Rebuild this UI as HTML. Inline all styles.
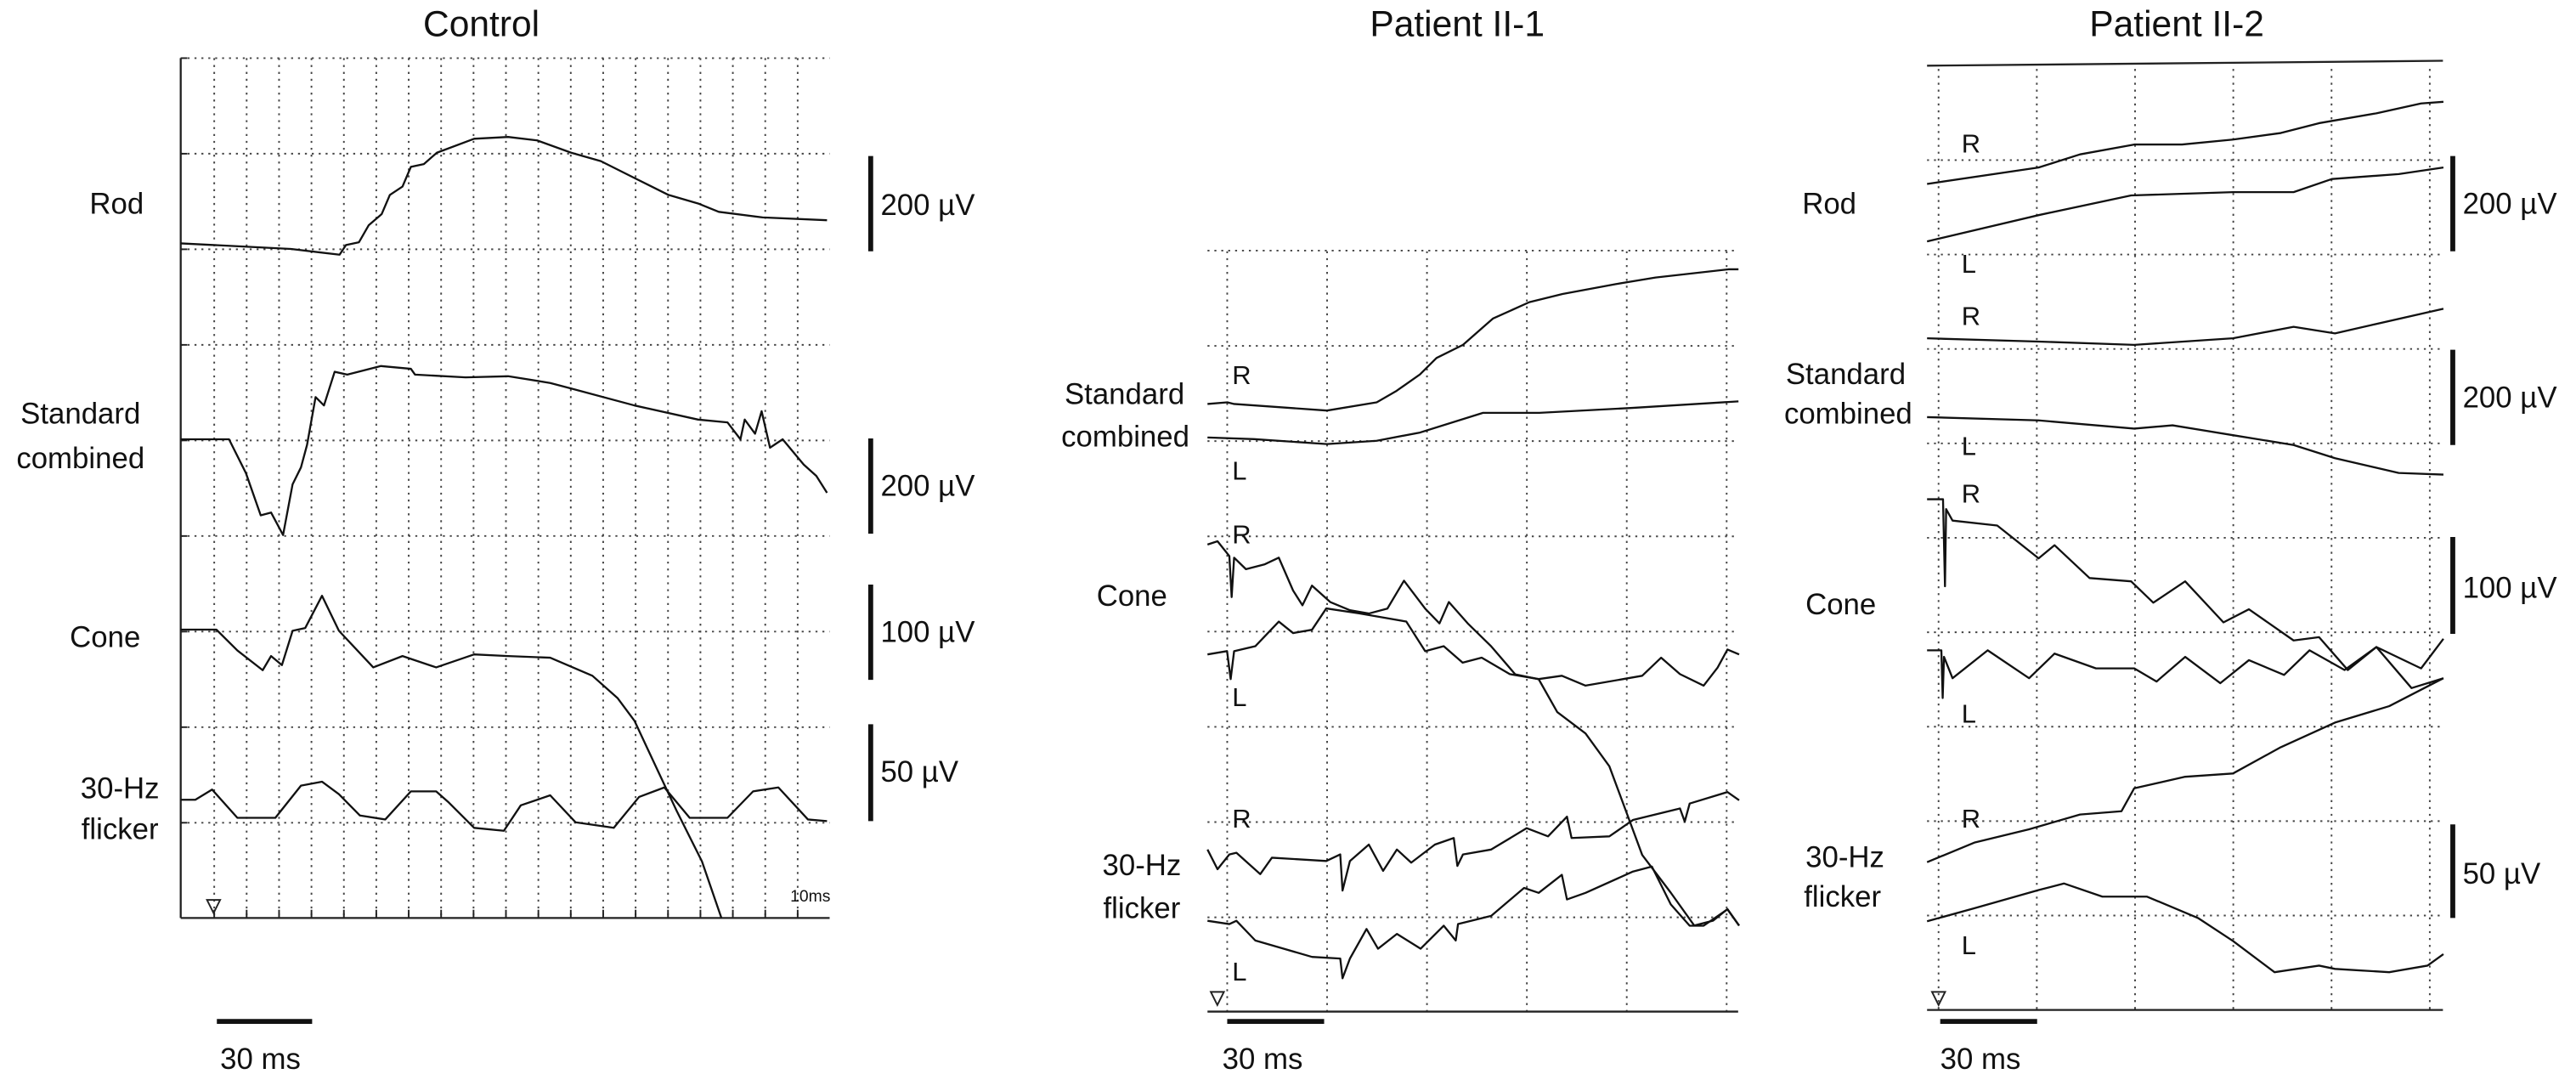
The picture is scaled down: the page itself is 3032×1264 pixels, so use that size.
<!DOCTYPE html>
<html><head><meta charset="utf-8"><style>
html,body{margin:0;padding:0;background:#fff}
svg{display:block}
text{font-family:"Liberation Sans",sans-serif;fill:#111}
</style></head><body>
<svg id="fig" width="3032" height="1264" viewBox="0 0 1568 654" preserveAspectRatio="none" xmlns="http://www.w3.org/2000/svg">
<g id="grid"></g>
<g id="traces"></g>
<g font-size="18">
<text x="293" y="22" font-size="22" text-anchor="middle">Control</text>
<text x="887" y="22" font-size="22" text-anchor="middle">Patient II-1</text>
<text x="1325" y="22" font-size="22" text-anchor="middle">Patient II-2</text>
<text x="71" y="130" text-anchor="middle">Rod</text>
<text x="49" y="258" text-anchor="middle">Standard</text>
<text x="49" y="285" text-anchor="middle">combined</text>
<text x="64" y="394" text-anchor="middle">Cone</text>
<text x="73" y="486" text-anchor="middle">30-Hz</text>
<text x="73" y="511" text-anchor="middle">flicker</text>
<text x="721" y="246" text-anchor="end">Standard</text>
<text x="724" y="272" text-anchor="end">combined</text>
<text x="689" y="369" text-anchor="middle">Cone</text>
<text x="695" y="533" text-anchor="middle">30-Hz</text>
<text x="695" y="559" text-anchor="middle">flicker</text>
<text x="1130" y="130" text-anchor="end">Rod</text>
<text x="1160" y="234" text-anchor="end">Standard</text>
<text x="1164" y="258" text-anchor="end">combined</text>
<text x="1142" y="374" text-anchor="end">Cone</text>
<text x="1147" y="528" text-anchor="end">30-Hz</text>
<text x="1145" y="552" text-anchor="end">flicker</text>
<g font-size="16">
<text x="750" y="234">R</text><text x="750" y="292">L</text>
<text x="750" y="331">R</text><text x="750" y="430">L</text>
<text x="750" y="504">R</text><text x="750" y="597">L</text>
<text x="1194" y="93">R</text><text x="1194" y="166">L</text>
<text x="1194" y="198">R</text><text x="1194" y="277">L</text>
<text x="1194" y="306">R</text><text x="1194" y="440">L</text>
<text x="1194" y="504">R</text><text x="1194" y="581">L</text>
</g>
<text x="481" y="549" font-size="10">10ms</text>
<g stroke="#111" stroke-width="3">
<line x1="530" y1="95" x2="530" y2="153"/><line x1="530" y1="267" x2="530" y2="325"/>
<line x1="530" y1="356" x2="530" y2="414"/><line x1="530" y1="441" x2="530" y2="500"/>
<line x1="1493" y1="95" x2="1493" y2="153"/><line x1="1493" y1="213" x2="1493" y2="271"/>
<line x1="1493" y1="327" x2="1493" y2="386"/><line x1="1493" y1="502" x2="1493" y2="559"/>
<line x1="132" y1="622" x2="190" y2="622"/><line x1="747" y1="622" x2="806" y2="622"/><line x1="1181" y1="622" x2="1240" y2="622"/>
</g>
<text x="536" y="131">200 µV</text><text x="536" y="302">200 µV</text>
<text x="536" y="391">100 µV</text><text x="536" y="476">50 µV</text>
<text x="1499" y="130">200 µV</text><text x="1499" y="248">200 µV</text>
<text x="1499" y="364">100 µV</text><text x="1499" y="538">50 µV</text>
<text x="134" y="651">30 ms</text><text x="744" y="651">30 ms</text><text x="1181" y="651">30 ms</text>
</g>
</svg>
<script>
// Control traces (t in ms, amplitude relative to baseline)
const ctlRodT=[0,34,49,51,55,58,62,64.5,68.4,71,75,79,90.5,101,110,120.5,129.6,140,150.5,159.6,166,179.5,199.4];
const ctlRodA=[0,-3.4,-6.9,-1,0.7,11,17.8,29.5,34.6,46.6,48.3,55.2,63.7,64.8,62.7,55.2,50.1,39.8,29.5,24.3,19.2,15.8,14.1];
const ctlStdT=[0,14.9,20.1,24.7,27.9,31.6,34.5,37.1,39,41.6,44.2,47.5,51.4,61.8,71,72.3,87.9,101,114,120.5,140,159.6,168.7,172.7,174,177.2,179.2,181.8,185.7,192.2,196.1,199.4];
const ctlStdA=[0,0,-20.6,-46.3,-44.6,-58.3,-27.4,-17.1,-3.4,25.7,20.6,41.1,39.4,44.6,42.9,39.4,37.7,38.4,34.3,30.9,20.6,12,10.3,0,12,3.4,17.1,-5.1,0,-15.4,-22.3,-32.6];
const ctlConeT=[0,11,17.5,25.3,27.9,31.2,34.5,38.4,43.6,48.8,59.4,68.4,78.8,90.5,101,114,127,134.8,140,146.5,153,160.8,166.8];
const ctlConeA=[0,0,-12.7,-24.7,-16.1,-21.6,-0.7,1,20.6,-0.7,-23,-16.1,-23,-15.1,-16.1,-17.1,-28.1,-41.8,-55.5,-82.9,-110.4,-141.2,-175.5];
const ctlFlkT=[0,4.5,9.7,17.5,29.2,37.1,43.6,48.8,55.3,63.1,71,78.8,82.7,90.5,99.7,104.9,114,121.8,133.6,141.4,149.2,157,168.7,176.6,184.4,193.5,199.4];
const ctlFlkA=[12,12,18.2,1,1,20.6,23,15.4,2.4,0,17.1,17.1,10.3,-5.1,-6.9,8.6,14.7,-1.7,-5.1,13.7,19.5,1,1,17.1,19.5,0,-1];
// Patient II-1
const p1StdRT=[0,6,8,36,51,57,64,69,77,86,97,107,123,135,157,160];
const p1StdRA=[0,1,0,-4,1,8,18,28,36,52,62,67,73,77,82,82];
const p1StdLT=[0,14,36,51,64,83,100,128,160];
const p1StdLA=[0,-1,-4,-2,3,15,15,18,22];
const p1ConeRT=[0,3,6.6,7.3,8,11.6,17.3,21.5,25.8,28.6,31.5,37,42.9,48.6,54.2,59.2,65.6,69.9,72.7,78.4,85.5,92.7,99.8,105.4,113.9,121.1,126.8,131,139.6,146.7,152.4,156.7,160.2];
const p1ConeRA=[0,2,-7,-32,-8,-15,-12,-8,-28,-37,-25,-35,-40,-42,-39,-22,-39,-48,-35,-48,-62,-79,-82,-102,-115,-135,-166,-189,-212,-232,-229,-222,-232];
const p1ConeLT=[0,5.9,7,8,14.4,21.5,25.8,31.5,35.8,45.7,54.2,59.9,65.6,71.2,76.9,82.6,91.1,99.8,106.8,113.9,125.3,131,136.7,142.4,149.5,153.7,156.7,160.2];
const p1ConeLA=[0,2,-15,2,5,20,13,15,28,25,22,20,2,5,-5,-2,-12,-15,-13,-19,-15,-13,-2,-12,-19,-8,3,0];
const p1FlkRT=[0,3,6.6,8.7,15.9,19.4,35.8,40,40.7,42.9,48.6,52.9,57.1,61.4,68.5,74.2,75.3,77,85.5,96.2,102.6,108.3,109.7,121.1,128.2,142.4,143.8,145.3,156.7,160.2];
const p1FlkRA=[0,-12,-3,-2,-15,-5,-7,-3,-25,-7,3,-13,0,-8,3,7,-10,-3,0,13,8,20,7,8,18,25,17,28,35,30];
const p1FlkLT=[0,6.6,8.7,14.4,22.9,31.5,40,40.7,42.9,47.9,51.4,57.1,64.2,71.2,74.8,75.5,85.5,95.4,99.8,106.8,108.3,113.9,128.2,133.9,139.6,145.3,149.5,156.7,160.2];
const p1FlkLA=[0,-2,0,-12,-17,-22,-23,-35,-23,-5,-17,-8,-17,-3,-12,-2,3,20,17,28,13,17,30,33,10,-3,-3,7,-3];
// Patient II-2
const p2RodRT=[0,35,48,65,80,96,111,123,141,155,162];
const p2RodRA=[0,10,18,24,24,27,31,37,43,49,50];
const p2RodLT=[0,35,64,96,115,127,148,162];
const p2RodLA=[0,16,28,30,30,38,41,45];
const p2StdRT=[0,35,65,96,115,128,162];
const p2StdRA=[0,-2,-4,0,7,3,18];
const p2StdLT=[0,35,65,77,96,115,128,148,162];
const p2StdLA=[0,-2,-7,-5,-11,-17,-25,-34,-35];
const p2ConeRT=[0,5,5.6,6,8,22,35,40,51,64,71,81,93,101,115,123,132,141,155,162];
const p2ConeRA=[0,0,-53,-6,-13,-16,-36,-28,-48,-50,-63,-50,-75,-67,-86,-84,-104,-90,-103,-85];
const p2ConeLT=[0,4.5,4.9,5.3,8,19,32,40,53,65,72,81,92,101,112,120,131,141,152,162];
const p2ConeLA=[0,0,-29,-4,-17,0,-17,-2,-11,-11,-19,-4,-20,-6,-15,0,-12,2,-23,-17];
const p2FlkRT=[0,15,32,48,61,65,81,96,111,128,145,162];
const p2FlkRA=[0,12,20,29,31,45,52,54,70,85,95,112];
const p2FlkLT=[0,15,35,43,55,69,85,96,109,123,128,145,157,162];
const p2FlkLA=[0,8,19,23,15,15,2,-12,-31,-27,-29,-31,-27,-20];

const NS="http://www.w3.org/2000/svg";
function mk(tag,attrs,parent){const e=document.createElementNS(NS,tag);for(const k in attrs)e.setAttribute(k,attrs[k]);parent.appendChild(e);return e;}
const grid=document.getElementById('grid');
const tr=document.getElementById('traces');
const dot={stroke:'#444','stroke-width':1,'stroke-dasharray':'1.2 3'};
function dline(x1,y1,x2,y2){const l=mk('line',Object.assign({x1,y1,x2,y2},dot),grid);

}
function sline(x1,y1,x2,y2,w){const l=mk('line',{x1,y1,x2,y2,stroke:'#222','stroke-width':w||1.2},grid);

}
// Control grid
for(let i=0;i<19;i++){const x=130.4+i*19.73;dline(x,35.4,x,559);sline(x,554,x,559,1);}
for(let j=0;j<9;j++){const y=35.4+j*58.2;dline(110,y,505,y);sline(110,y,114,y,1);}
sline(110,35.4,110,559);sline(110,559,505,559);
// Patient II-1 grid
for(let i=0;i<6;i++){const x=747+i*60.8;dline(x,153,x,616);}
for(let j=0;j<8;j++){const y=152.6+j*58;dline(735,y,1058,y);}
sline(735,616,1058,616);
// Patient II-2 grid
for(let i=0;i<6;i++){const x=1180+i*59.8;dline(x,42,x,615);}
for(let j=1;j<10;j++){const y=40+j*57.5;dline(1173,y,1487,y);}
sline(1173,40,1487,37);sline(1173,615,1487,615);
// triangles
[[130,548],[741,604],[1180,604]].forEach(p=>{const t=mk('path',{d:`M${p[0]-4} ${p[1]} L${p[0]+4} ${p[1]} L${p[0]} ${p[1]+8} Z`,fill:'none',stroke:'#222','stroke-width':1},grid);

});

function xS(x0,k,t){return x0+t*k;}
function yS(base,a){return base-a;}
function trace(name,x0,k,base,T,A){
  const pts=T.map((t,i)=>xS(x0,k,t).toFixed(1)+','+yS(base,A[i]).toFixed(1)).join(' ');
  const p=mk('polyline',{points:pts,fill:'none',stroke:'#111','stroke-width':1.2,'stroke-linejoin':'round'},tr);
  
  
}
const kC=1.973,k1=2.02,k2=1.94;
trace('control-rod-trace',110,kC,148.2,ctlRodT,ctlRodA);
trace('control-standard-trace',110,kC,267.5,ctlStdT,ctlStdA);
trace('control-cone-trace',110,kC,383.4,ctlConeT,ctlConeA);
trace('control-flicker-trace',110,kC,499,ctlFlkT,ctlFlkA);
trace('p1-standard-r-trace',735,k1,246,p1StdRT,p1StdRA);
trace('p1-standard-l-trace',735,k1,266.4,p1StdLT,p1StdLA);
trace('p1-cone-r-trace',735,k1,331.6,p1ConeRT,p1ConeRA);
trace('p1-cone-l-trace',735,k1,398.5,p1ConeLT,p1ConeLA);
trace('p1-flicker-r-trace',735,k1,517.3,p1FlkRT,p1FlkRA);
trace('p1-flicker-l-trace',735,k1,560.7,p1FlkLT,p1FlkLA);
trace('p2-rod-r-trace',1173,k2,112,p2RodRT,p2RodRA);
trace('p2-rod-l-trace',1173,k2,147,p2RodLT,p2RodLA);
trace('p2-standard-r-trace',1173,k2,206,p2StdRT,p2StdRA);
trace('p2-standard-l-trace',1173,k2,254,p2StdLT,p2StdLA);
trace('p2-cone-r-trace',1173,k2,304,p2ConeRT,p2ConeRA);
trace('p2-cone-l-trace',1173,k2,396,p2ConeLT,p2ConeLA);
trace('p2-flicker-r-trace',1173,k2,525,p2FlkRT,p2FlkRA);
trace('p2-flicker-l-trace',1173,k2,561,p2FlkLT,p2FlkLA);
</script>
</body></html>
